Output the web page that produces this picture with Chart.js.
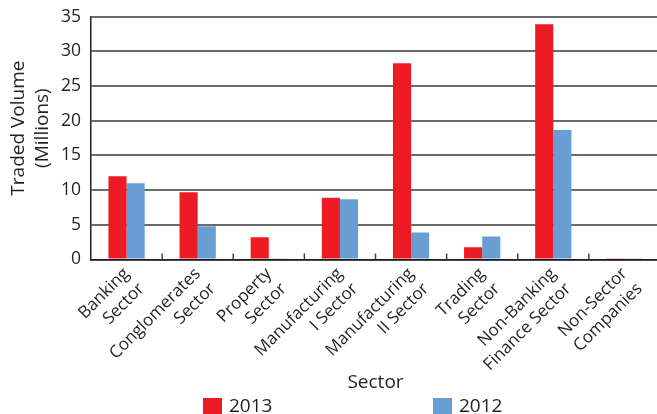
<!DOCTYPE html>
<html>
<head>
<meta charset="utf-8">
<script src="https://cdn.jsdelivr.net/npm/chart.js@4/dist/chart.umd.min.js"></script>
<style>
  html, body { margin: 0; padding: 0; background: #fff; overflow: hidden; }
  #wrap { position: absolute; left: 0; top: 0; width: 703px; height: 420px; }
</style>
</head>
<body>
<div id="wrap"><canvas id="c"></canvas></div>
<script>
const categories = [
  ["Banking", "Sector"],
  ["Conglomerates", "Sector"],
  ["Property", "Sector"],
  ["Manufacturing", "I Sector"],
  ["Manufacturing", "II Sector"],
  ["Trading", "Sector"],
  ["Non-Banking", "Finance Sector"],
  ["Non-Sector", "Companies"]
];
const seriesNames = ["2013", "2012"];
const values2013 = [12.0, 9.7, 3.2, 8.9, 28.3, 1.75, 33.9, 0.1];
const values2012 = [11.0, 4.8, 0.1, 8.7, 3.9, 3.3, 18.65, 0.1];
const yTicks = [0, 5, 10, 15, 20, 25, 30, 35];
const yTitle = ["Traded Volume", "(Millions)"];
const xTitle = "Sector";

const RED = 'rgb(237,28,36)';
const BLUE = 'rgb(104,158,212)';
const FONT = "'Open Sans', 'Noto Sans', sans-serif";
const TEXT = '#231f20';

const innerTicks = {
  id: 'innerTicks',
  afterDatasetsDraw(chart) {
    const x = chart.scales.x, ctx = chart.ctx;
    const b = chart.chartArea.bottom;
    ctx.save();
    ctx.strokeStyle = '#444';
    ctx.lineWidth = 1.5;
    for (let i = 1; i < categories.length; i++) {
      const px = (x.getPixelForValue(i - 1) + x.getPixelForValue(i)) / 2;
      ctx.beginPath();
      ctx.moveTo(px, b - 6);
      ctx.lineTo(px, b);
      ctx.stroke();
    }
    ctx.restore();
  }
};

const yAxisTitle = {
  id: 'yAxisTitle',
  afterDraw(chart) {
    const ctx = chart.ctx;
    const ca = chart.chartArea;
    const cy = (ca.top + ca.bottom) / 2 - 10;
    const xs = [18.5, 43];
    ctx.save();
    ctx.font = "19px " + FONT;
    ctx.fillStyle = TEXT;
    ctx.textAlign = 'center';
    ctx.textBaseline = 'middle';
    yTitle.forEach((t, i) => {
      ctx.save();
      ctx.translate(xs[i], cy);
      ctx.rotate(-Math.PI / 2);
      ctx.fillText(t, 0, 0);
      ctx.restore();
    });
    ctx.restore();
  }
};

const customLegend = {
  id: 'customLegend',
  afterDraw(chart) {
    const ctx = chart.ctx;
    const ca = chart.chartArea;
    const cx = (ca.left + ca.right) / 2;
    const offsets = [-172.5, 57.5];
    ctx.save();
    ctx.font = "19px " + FONT;
    ctx.textBaseline = 'middle';
    ctx.textAlign = 'left';
    chart.data.datasets.forEach((ds, i) => {
      const bx = cx + offsets[i];
      const by = 398;
      ctx.fillStyle = ds.backgroundColor;
      ctx.fillRect(bx, by, 19, 19);
      ctx.fillStyle = TEXT;
      ctx.fillText(ds.label, bx + 26, by + 9);
    });
    ctx.restore();
  }
};

new Chart(document.getElementById('c'), {
  type: 'bar',
  data: {
    labels: categories,
    datasets: [
      { label: seriesNames[0], data: values2013, backgroundColor: RED, borderWidth: 0 },
      { label: seriesNames[1], data: values2012, backgroundColor: BLUE, borderWidth: 0 }
    ]
  },
  plugins: [innerTicks, yAxisTitle, customLegend],
  options: {
    responsive: true,
    maintainAspectRatio: false,
    animation: false,
    devicePixelRatio: 1,
    layout: { padding: { left: 0, right: 43, top: 16.7, bottom: 22 } },
    datasets: { bar: { categoryPercentage: 0.51, barPercentage: 1.0 } },
    plugins: {
      legend: { display: false },
      tooltip: { enabled: false },
      title: { display: false }
    },
    scales: {
      x: {
        grid: { display: false, drawTicks: false },
        border: { display: true, color: '#231f20', width: 1.5 },
        ticks: {
          color: TEXT,
          font: { family: FONT, size: 17, lineHeight: 1.25 },
          minRotation: 45,
          maxRotation: 45,
          autoSkip: false,
          padding: 4
        },
        title: {
          display: true,
          text: xTitle,
          color: TEXT,
          font: { family: FONT, size: 19 },
          padding: { top: 4, bottom: 4 }
        },
        afterFit(s) { s.height = 138.5; }
      },
      y: {
        min: 0,
        max: 35,
        afterBuildTicks(s) { s.ticks = yTicks.map(v => ({ value: v })); },
        grid: { color: '#6b6b6b', lineWidth: 2, drawTicks: false },
        border: { display: true, color: '#231f20', width: 1.5 },
        ticks: {
          color: TEXT,
          font: { family: FONT, size: 17.5 },
          padding: 10
        },
        title: { display: false },
        afterFit(s) { s.width = 91; s.paddingTop = 0; s.paddingBottom = 0; }
      }
    }
  }
});
</script>
</body>
</html>
